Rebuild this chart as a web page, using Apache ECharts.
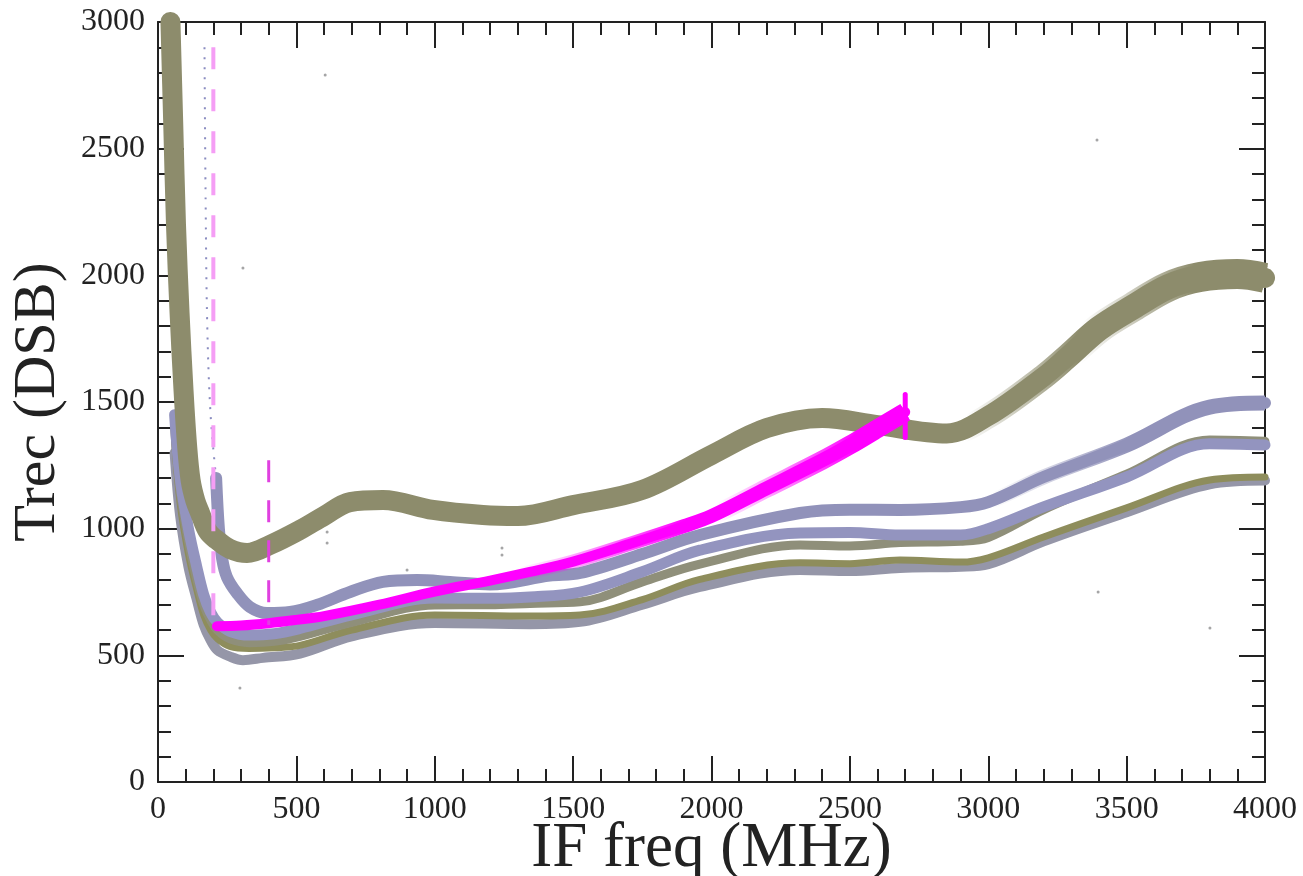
<!DOCTYPE html>
<html><head><meta charset="utf-8">
<script src="https://cdn.jsdelivr.net/npm/echarts@6/dist/echarts.min.js"></script>
<style>html,body{margin:0;padding:0;background:#fff}#c{width:1303px;height:876px}</style>
</head><body><div id="c"></div>
<script>
// IF frequency (MHz) vs receiver temperature (K)
const xTicks = [0, 500, 1000, 1500, 2000, 2500, 3000, 3500, 4000];
const yTicks = [0, 500, 1000, 1500, 2000, 2500, 3000];

const bandA = [[45,3000],[55,2600],[65,2200],[78,1850],[92,1550],[105,1330],[118,1190],[135,1110],[152,1062],[180,990],[213,955],[260,920],[322,904],[405,936],[513,995],[600,1050],[694,1105],[813,1113],[994,1074],[1174,1054],[1300,1050],[1500,1093],[1750,1153],[2000,1291],[2200,1397],[2400,1437],[2600,1409],[2850,1376],[3000,1445],[3200,1600],[3284,1678],[3400,1790],[3523,1875],[3650,1955],[3765,1993],[3900,2005],[4000,1990]];
const bandBTop = [[168,2900],[172,2300],[178,1800],[190,1450],[210,1200]];
const bandB = [[210,1200],[220,1000],[232,880],[249,809],[285,746],[332,691],[394,667],[477,671],[574,699],[694,750],[813,790],[936,797],[1055,790],[1200,780],[1416,815],[1525,825],[1750,900],[1958,975],[2320,1062],[2500,1075],[2681,1074],[2900,1085],[3000,1105],[3200,1204],[3500,1330],[3800,1480],[4000,1496]];
const bandC = [[60,1450],[80,1200],[110,1000],[140,850],[165,740],[190,670],[215,630],[260,595],[330,580],[420,585],[513,606],[700,660],[1000,726],[1200,725],[1344,730],[1525,750],[1750,830],[1958,915],[2320,983],[2500,985],[2681,975],[2900,975],[3000,1000],[3200,1086],[3500,1204],[3800,1335],[4000,1330]];
const bandCp = [[60,1400],[80,1150],[110,950],[140,800],[165,700],[190,640],[215,600],[260,565],[330,550],[420,555],[513,575],[700,630],[1000,699],[1200,700],[1344,705],[1525,711],[1750,790],[1958,860],[2320,936],[2500,932],[2681,945],[2900,950],[3000,965],[3200,1075],[3500,1215],[3800,1350],[4000,1345]];
const bandE = [[60,1350],[80,1100],[110,900],[140,760],[165,660],[190,600],[215,565],[260,535],[330,527],[420,530],[513,539],[700,600],[1000,659],[1344,655],[1525,659],[1750,720],[1958,800],[2320,865],[2500,862],[2681,876],[2900,868],[3000,885],[3200,967],[3500,1082],[3800,1192],[4000,1204]];
const bandEp = [[60,1300],[80,1050],[110,850],[140,720],[165,620],[190,560],[215,520],[260,495],[307,481],[380,490],[513,507],[700,575],[1000,628],[1344,623],[1525,632],[1750,700],[1958,770],[2320,837],[2500,833],[2681,845],[2900,850],[3000,860],[3200,950],[3500,1065],[3800,1175],[4000,1190]];
const magenta = [[213,615],[300,618],[400,627],[500,640],[600,655],[800,700],[1000,752],[1200,795],[1344,829],[1500,870],[1705,940],[1900,1010],[2000,1050],[2200,1160],[2400,1270],[2500,1330],[2600,1395],[2700,1460]];
const magentaEdge = [[2700,1360],[2700,1530]];
const dash200 = [[200,2900],[200,600]];
const dash400 = [[400,1270],[400,620]];
const strayPoints = [[604,2791],[307,2029],[3393,2534],[3801,608],[3397,750],[296,371],[611,987],[611,943],[900,837],[1243,924],[1243,896]];

const serif = '"Liberation Serif","DejaVu Serif",serif';
const chart = echarts.init(document.getElementById('c'), null, {renderer:'canvas'});

function band(data, color, width, extra) {
  return Object.assign({
    type:'line', data:data, showSymbol:false, smooth:0.35,
    lineStyle:{color:color, width:width, cap:'round', join:'round'},
    silent:true, animation:false
  }, extra || {});
}
// same curve drawn wider, faded in between frequencies f0 and f1 (band gets noisier to the right)
function widen(data, f0, f1, rgb, width) {
  const xs = data.map(function(p){return p[0];});
  const lo = Math.min.apply(null, xs), hi = Math.max.apply(null, xs);
  const a = (f0 - lo) / (hi - lo), b = (f1 - lo) / (hi - lo);
  const grad = new echarts.graphic.LinearGradient(0, 0, 1, 0, [
    {offset:0, color:'rgba(' + rgb + ',0)'},
    {offset:a, color:'rgba(' + rgb + ',0)'},
    {offset:b, color:'rgba(' + rgb + ',1)'},
    {offset:1, color:'rgba(' + rgb + ',1)'}
  ]);
  return band(data, null, width, {lineStyle:{color:grad, width:width, cap:'butt', join:'round'}});
}

const axisCommonX = {
  type:'value', min:0, max:4000, interval:500,
  axisLine:{show:true, onZero:false, lineStyle:{color:'#222', width:2}},
  axisTick:{show:true, inside:true, length:26, lineStyle:{color:'#222', width:2}},
  minorTick:{show:true, splitNumber:5, length:13, lineStyle:{color:'#222', width:2}},
  splitLine:{show:false}, minorSplitLine:{show:false}
};
const axisCommonY = {
  type:'value', min:0, max:3000, interval:500,
  axisLine:{show:true, onZero:false, lineStyle:{color:'#222', width:2}},
  axisTick:{show:true, inside:true, length:26, lineStyle:{color:'#222', width:2}},
  minorTick:{show:true, splitNumber:5, length:13, lineStyle:{color:'#222', width:2}},
  splitLine:{show:false}, minorSplitLine:{show:false}
};

chart.setOption({
  animation:false,
  backgroundColor:'#fff',
  grid:{left:158, right:38, top:22, bottom:94, containLabel:false, outerBoundsMode:'none'},
  xAxis:[
    Object.assign({}, axisCommonX, {position:'bottom',
      name:'IF freq (MHz)', nameLocation:'middle', nameGap:36, nameMoveOverlap:false,
      nameTextStyle:{fontFamily:serif, fontSize:63, color:'#222', verticalAlign:'top'},
      axisLabel:{show:true, margin:12, fontFamily:serif, fontSize:32, color:'#222',
        formatter:function(v){return xTicks.indexOf(v)>=0? String(v):'';}}}),
    Object.assign({}, axisCommonX, {position:'top', axisLabel:{show:false}})
  ],
  yAxis:[
    Object.assign({}, axisCommonY, {position:'left',
      name:'Trec (DSB)', nameLocation:'middle', nameGap:90, nameRotate:90, nameMoveOverlap:false,
      nameTextStyle:{fontFamily:serif, fontSize:60, color:'#222'},
      axisLabel:{show:true, margin:13, fontFamily:serif, fontSize:32, color:'#222',
        formatter:function(v){return yTicks.indexOf(v)>=0? String(v):'';}}}),
    Object.assign({}, axisCommonY, {position:'right', axisLabel:{show:false}})
  ],
  series:[
    band(bandEp, '#9596a8', 10),
    band(bandE, '#8e8d5c', 7),
    band(bandCp, '#8f8f7a', 9),
    band(bandC, '#9394bf', 11),
    band(bandBTop, '#8a8cc0', 2, {lineStyle:{color:'#8a8cc0', width:2, type:[2,8]}}),
    band(bandB, '#9192ba', 12),
    widen(bandB, 3000, 3500, '145,146,186', 15),
    band(bandA, '#8d8c6c', 20),
    widen(bandA, 2900, 3300, '141,140,108', 25),
    widen(bandA, 3300, 3700, '141,140,108', 30),
    band(magenta, '#ff00ff', 10),
    widen(magenta, 1300, 1900, '255,0,255', 14),
    widen(magenta, 2000, 2500, '255,0,255', 19),
    band(magentaEdge, '#ff00ff', 5, {smooth:false}),
    {type:'scatter', data:strayPoints, symbolSize:3, itemStyle:{color:'#8e8e90'}, silent:true},
    band(dash200, '#f59ef5', 4, {smooth:false, lineStyle:{color:'#f59ef5', width:4, type:[22,20]}}),
    band(dash400, '#e040e0', 3, {smooth:false, lineStyle:{color:'#e040e0', width:3, type:[22,18]}})
  ]
});
</script>
</body></html>
